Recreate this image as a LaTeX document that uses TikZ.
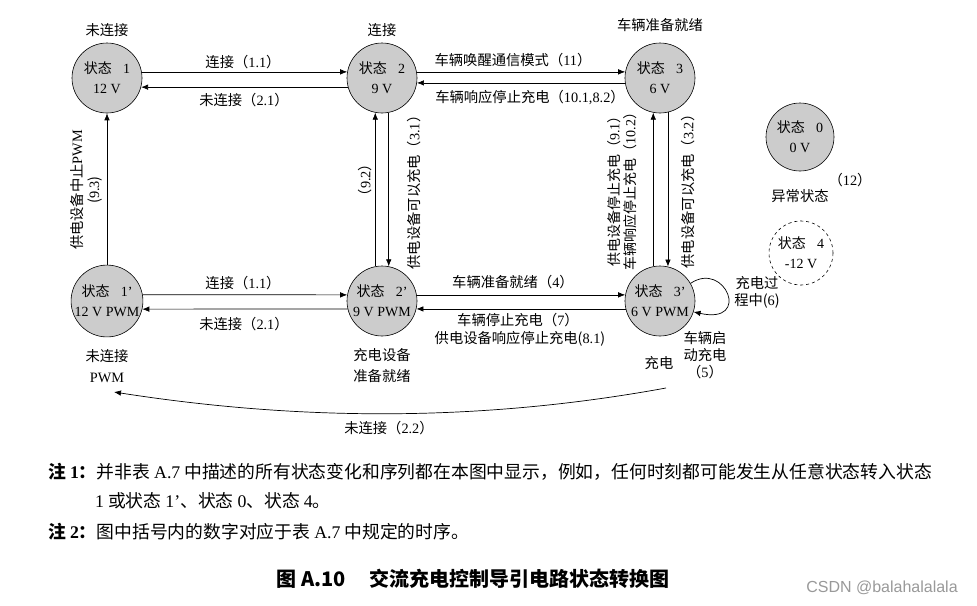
\documentclass[tikz,border=0pt]{standalone}
\usepackage{fontspec}
\setmainfont{Noto Sans CJK SC}
\newfontfamily\latf{Liberation Serif}
\newfontfamily\wmf{Liberation Sans}
\usetikzlibrary{arrows.meta}
\begin{document}
\begin{tikzpicture}[x=1pt,y=-1pt,
  st/.style={circle,draw,line width=0.6pt,fill=black!20,minimum size=70pt,inner sep=0pt,align=center,font=\fontsize{14}{20}\selectfont},
  lb/.style={inner sep=0pt,font=\fontsize{14.3}{17}\selectfont,align=center},
  rl/.style={lb,rotate=90},
  note/.style={inner sep=0pt,anchor=west,font=\fontsize{17.8}{19}\selectfont},
  ar/.style={line width=0.7pt,-{Latex[length=7pt,width=5.5pt]}}]
\fill[white] (0,0) rectangle (977,605);
\useasboundingbox (0,0) rectangle (977,605);

% states
\node[st] (s1) at (107,78) {状态\hspace{0.8em}{\latf 1}\\{\latf 12 V}};
\node[st] (s2) at (382,78) {状态\hspace{0.8em}{\latf 2}\\{\latf 9 V}};
\node[st] (s3) at (660,78) {状态\hspace{0.8em}{\latf 3}\\{\latf 6 V}};
\node[st] (s1p) at (107,301) {状态\hspace{0.8em}{\latf 1’}\\{\latf 12 V PWM}};
\node[st] (s2p) at (382,301) {状态\hspace{0.8em}{\latf 2’}\\{\latf 9 V PWM}};
\node[st] (s3p) at (660,301) {状态\hspace{0.8em}{\latf 3’}\\{\latf 6 V PWM}};
\node[st,minimum size=68pt] (s0) at (800,137) {状态\hspace{0.8em}{\latf 0}\\{\latf 0 V}};
\node[st,dashed,fill=none,minimum size=64pt] (s4) at (801,253) {状态\hspace{0.8em}{\latf 4}\\{\latf -12 V}};

% connectors
\draw[ar] (s1.10) -- (s2.170);
\draw[ar] (s2.195) -- (s1.-15);
\draw[ar] (s2.10) -- (s3.170);
\draw[ar] (s3.188) -- (s2.-8);
\draw[ar] (s1p.north) -- (s1.south);
\draw[ar] (s2p.101) -- (s2.259);
\draw[ar] (s2.281) -- (s2p.79);
\draw[ar] (s3p.101) -- (s3.259);
\draw[ar] (s3.283) -- (s3p.77);
\draw[ar] (s1p.10) -- (s2p.170);
\draw[ar] (s2p.193) -- (s1p.-13);
\draw[ar] (s2p.10) -- (s3p.170);
\draw[ar] (s3p.193) -- (s2p.-13);
\draw[ar] (s3p.30) .. controls (725,260) and (752,325) .. (s3p.-18);
\coordinate (cA) at (666,388);
\coordinate (cB) at (114,392);
\draw[ar] (cA) .. controls (480,422) and (300,421) .. (cB);

% state captions
\node[lb] (t1) at (107,30) {未连接};
\node[lb] (t2) at (382,30) {连接};
\node[lb] (t3) at (660,25) {车辆准备就绪};
\node[lb] (t1p) at (107,366) {未连接\\[4pt]{\latf PWM}};
\node[lb] (t2p) at (382,366) {充电设备\\[4pt]准备就绪};
\node[lb] (t3p) at (659,363) {充电};
\node[lb] (t0) at (800,196) {异常状态};
\node[lb] (t12) at (850,180) {（{\latf 12}）};

% transition labels
\node[lb] (a11) at (243,62) {连接（{\latf 1.1}）};
\node[lb] (a21) at (244,100) {未连接（{\latf 2.1}）};
\node[lb] (a111) at (513,60) {车辆唤醒通信模式（{\latf 11}）};
\node[lb] (a101) at (530,97) {车辆响应停止充电（{\latf 10.1,8.2}）};
\node[lb] (b11) at (243,283) {连接（{\latf 1.1}）};
\node[lb] (b21) at (244,324) {未连接（{\latf 2.1}）};
\node[lb] (b4) at (513,282) {车辆准备就绪（{\latf 4}）};
\node[lb] (b7) at (518,320) {车辆停止充电（{\latf 7}）};
\node[lb] (b81) at (520,339) {供电设备响应停止充电({\latf 8.1})};
\node[lb] (b5) at (705,355) {车辆启\\动充电\\（{\latf 5}）};
\node[lb] (b6) at (757,292) {充电过\\程中({\latf 6})};
\node[lb] (b22) at (389,428) {未连接（{\latf 2.2}）};

% rotated labels
\node[rl] (v93) at (86,190) {供电设备中止{\latf PWM}\\({\latf 9.3})};
\node[rl] (v92) at (365,180) {（{\latf 9.2}）};
\node[rl] (v31) at (414,189) {供电设备可以充电（{\latf 3.1}）};
\node[rl,font=\fontsize{14}{16}\selectfont] (v91) at (622,188) {供电设备停止充电（{\latf 9.1}）\\车辆响应停止充电（{\latf 10.2}）};
\node[rl] (v32) at (688,188) {供电设备可以充电（{\latf 3.2}）};

% notes
\node[note] (n1) at (48,472) {\textbf{注 {\latf 1}：}并非表 {\latf A.7} 中描述的所有状态变化和序列都在本图中显示，例如，任何时刻都可能发生从任意状态转入状态};
\node[note] (n1b) at (95,501) {{\latf 1} 或状态 {\latf 1’}、状态 {\latf 0}、状态 {\latf 4}。};
\node[note] (n2) at (48,532) {\textbf{注 {\latf 2}：}图中括号内的数字对应于表 {\latf A.7} 中规定的时序。};
\node[inner sep=0pt,font=\fontsize{20}{22}\selectfont\bfseries] (ttl) at (473,579) {图 A.10\hspace{1.2em}交流充电控制导引电路状态转换图};
\node[inner sep=0pt,font=\wmf\fontsize{16}{18}\selectfont,text=black!40] (wm) at (882,588) {CSDN @balahalalala};
\end{tikzpicture}
\end{document}
